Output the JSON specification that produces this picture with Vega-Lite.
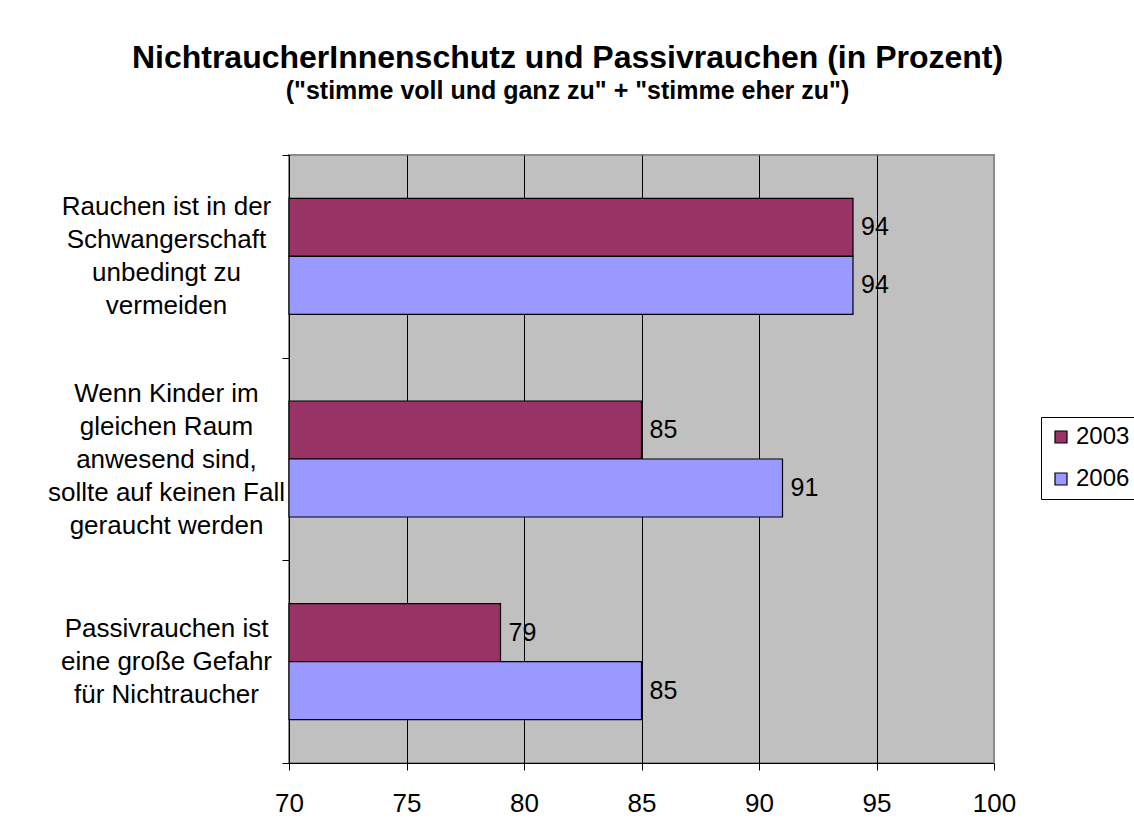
{
  "$schema": "https://vega.github.io/schema/vega-lite/v6.json",
  "autosize": "none",
  "width": 705,
  "height": 608,
  "padding": {"left": 289, "top": 155, "right": 140, "bottom": 76},
  "background": "white",
  "title": {
    "text": "NichtraucherInnenschutz und Passivrauchen (in Prozent)",
    "subtitle": "(\"stimme voll und ganz zu\" + \"stimme eher zu\")",
    "anchor": "middle",
    "frame": "group",
    "dx": -74,
    "offset": 37,
    "font": "Liberation Sans",
    "fontSize": 32,
    "fontWeight": "bold",
    "color": "black",
    "subtitleFont": "Liberation Sans",
    "subtitleFontSize": 25,
    "subtitleFontWeight": "bold",
    "subtitleColor": "black",
    "subtitlePadding": 4
  },
  "data": {
    "values": [
      {"aussage": "Rauchen ist in der|Schwangerschaft|unbedingt zu|vermeiden", "jahr": "2003", "prozent": 94},
      {"aussage": "Rauchen ist in der|Schwangerschaft|unbedingt zu|vermeiden", "jahr": "2006", "prozent": 94},
      {"aussage": "Wenn Kinder im|gleichen Raum|anwesend sind,|sollte auf keinen Fall|geraucht werden", "jahr": "2003", "prozent": 85},
      {"aussage": "Wenn Kinder im|gleichen Raum|anwesend sind,|sollte auf keinen Fall|geraucht werden", "jahr": "2006", "prozent": 91},
      {"aussage": "Passivrauchen ist|eine große Gefahr|für Nichtraucher", "jahr": "2003", "prozent": 79},
      {"aussage": "Passivrauchen ist|eine große Gefahr|für Nichtraucher", "jahr": "2006", "prozent": 85}
    ]
  },
  "encoding": {
    "y": {
      "field": "aussage",
      "type": "nominal",
      "sort": null,
      "scale": {"paddingInner": 0, "paddingOuter": 0},
      "axis": {
        "title": null,
        "tickBand": "extent",
        "tickSize": 7,
        "tickColor": "black",
        "domainColor": "black",
        "labelAlign": "center",
        "labelBaseline": "middle",
        "labelPadding": 116,
        "labelFont": "Liberation Sans",
        "labelFontSize": 26,
        "labelLineHeight": 16.5,
        "labelColor": "black",
        "labelLimit": 400,
        "labelOffset": -66,
        "labelExpr": "split((indexof(datum.label, 'Wenn') == 0 ? '' : indexof(datum.label, 'Rauchen') == 0 ? '\u200b|' : '\u200b|\u200b|') + join(split(datum.label, '|'), '|\u200b|'), '|')"
      }
    },
    "yOffset": {
      "field": "jahr",
      "type": "nominal",
      "sort": ["2003", "2006"],
      "scale": {"paddingInner": 0, "paddingOuter": 0.747}
    }
  },
  "layer": [
    {
      "mark": {"type": "bar", "stroke": "black", "strokeWidth": 1.2},
      "encoding": {
        "x": {
          "field": "prozent",
          "type": "quantitative",
          "scale": {"domain": [70, 100], "zero": false, "nice": false},
          "axis": {
            "title": null,
            "values": [70, 75, 80, 85, 90, 95, 100],
            "grid": true,
            "gridColor": {"condition": {"test": "datum.value == 100", "value": "#8c8c8c"}, "value": "black"},
            "gridOpacity": 1,
            "gridWidth": 1,
            "tickSize": 7,
            "tickColor": "black",
            "domainColor": "black",
            "labelFont": "Liberation Sans",
            "labelFontSize": 26,
            "labelColor": "black",
            "labelPadding": 20,
            "labelFlush": false
          }
        },
        "x2": {"datum": 70},
        "color": {
          "field": "jahr",
          "type": "nominal",
          "scale": {"domain": ["2003", "2006"], "range": ["#993366", "#9999FF"]},
          "legend": {
            "title": null,
            "orient": "none",
            "legendX": 752,
            "legendY": 262,
            "strokeColor": "black",
            "fillColor": "white",
            "padding": 8,
            "symbolType": "square",
            "symbolSize": 144,
            "symbolStrokeColor": "black",
            "symbolStrokeWidth": 1.2,
            "symbolOpacity": 1,
            "labelFont": "Liberation Sans",
            "labelFontSize": 24,
            "labelColor": "black",
            "labelOffset": 3,
            "rowPadding": 18
          }
        }
      }
    },
    {
      "mark": {"type": "text", "align": "left", "baseline": "middle", "dx": 8, "font": "Liberation Sans", "fontSize": 25, "color": "black"},
      "encoding": {
        "x": {"field": "prozent", "type": "quantitative"},
        "text": {"field": "prozent", "type": "quantitative"}
      }
    }
  ],
  "config": {
    "view": {"fill": "#C0C0C0", "stroke": "#8c8c8c", "strokeWidth": 2}
  }
}
